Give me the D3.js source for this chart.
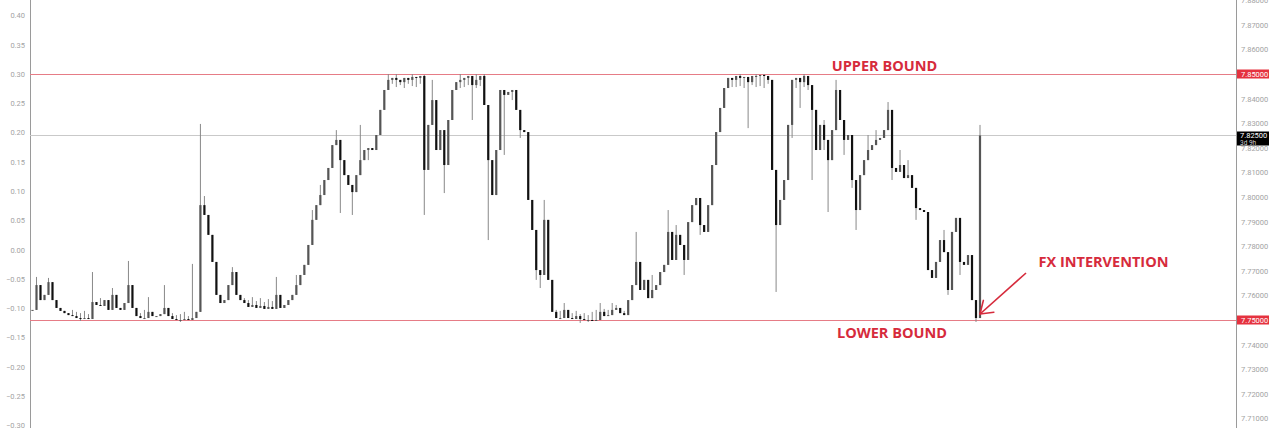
<!DOCTYPE html>
<html>
<head>
<meta charset="utf-8">
<script src="https://cdn.jsdelivr.net/npm/d3@7"></script>
<style>
  html, body { margin: 0; padding: 0; background: #ffffff; }
  svg { display: block; }
</style>
</head>
<body>
<div id="chart"></div>
<script>
// ---------- DATA (USD/HKD closes) ----------
const closes = [
  7.7541, 7.7642, 7.7581, 7.7602, 7.7654, 7.7581, 7.7549, 7.7537, 7.7528, 7.7520,
  7.7516, 7.7508, 7.7504, 7.7508, 7.7504, 7.7573, 7.7561, 7.7557, 7.7581, 7.7541,
  7.7602, 7.7549, 7.7541, 7.7569, 7.7642, 7.7549, 7.7516, 7.7508, 7.7508, 7.7533,
  7.7516, 7.7516, 7.7524, 7.7549, 7.7516, 7.7504, 7.7500, 7.7500, 7.7504, 7.7500,
  7.7508, 7.7533, 7.7967, 7.7927, 7.7846, 7.7736, 7.7602, 7.7569, 7.7581, 7.7642,
  7.7695, 7.7602, 7.7581, 7.7569, 7.7553, 7.7561, 7.7549, 7.7557, 7.7545, 7.7553,
  7.7545, 7.7602, 7.7549, 7.7561, 7.7581, 7.7602, 7.7642, 7.7683, 7.7724, 7.7805,
  7.7907, 7.7967, 7.8008, 7.8069, 7.8118, 7.8211, 7.8232, 7.8150, 7.8089, 7.8049,
  7.8020, 7.8089, 7.8150, 7.8191, 7.8199, 7.8191, 7.8252, 7.8354, 7.8435, 7.8476,
  7.8484, 7.8476, 7.8467, 7.8484, 7.8476, 7.8488, 7.8484, 7.8492, 7.8110,
  7.8293, 7.8394, 7.8191, 7.8272, 7.8130, 7.8313, 7.8435, 7.8467, 7.8476, 7.8484,
  7.8492, 7.8455, 7.8476, 7.8492, 7.8374, 7.8150, 7.8008, 7.8191, 7.8435, 7.8415,
  7.8427, 7.8435, 7.8354, 7.8272, 7.8264, 7.7988, 7.7866, 7.7703, 7.7683, 7.7907,
  7.7663, 7.7533, 7.7508, 7.7508, 7.7541, 7.7508, 7.7504, 7.7516, 7.7504, 7.7500,
  7.7500, 7.7496, 7.7500, 7.7533, 7.7516, 7.7520, 7.7541, 7.7549,
  7.7528, 7.7520, 7.7581, 7.7642, 7.7736, 7.7622, 7.7663, 7.7589, 7.7622, 7.7642,
  7.7695, 7.7724, 7.7858, 7.7744, 7.7846, 7.7805, 7.7744, 7.7898, 7.7967, 7.7996,
  7.7886, 7.7858, 7.7967, 7.8130, 7.8264, 7.8362, 7.8443, 7.8484, 7.8476, 7.8492,
  7.8484, 7.8488, 7.8467, 7.8492, 7.8492, 7.8496, 7.8492, 7.8476, 7.8110, 7.7886,
  7.7988, 7.8069, 7.8293, 7.8476, 7.8484, 7.8467, 7.8492, 7.8455, 7.8354,
  7.8191, 7.8293, 7.8232, 7.8150, 7.8272, 7.8435, 7.8313, 7.8232, 7.8252, 7.8069,
  7.7947, 7.8089, 7.8150, 7.8191, 7.8211, 7.8232, 7.8240, 7.8272, 7.8354, 7.8118,
  7.8102, 7.8130, 7.8077, 7.8089, 7.8037, 7.7955, 7.7947, 7.7939, 7.7703, 7.7671,
  7.7736, 7.7825, 7.7776, 7.7622, 7.7858, 7.7915, 7.7736, 7.7724, 7.7764, 7.7581,
  7.7508, 7.8250
];
// wick extremes beyond the body: [bar index, price]
const wickHighs = [
  [1, 7.7675], [4, 7.7671], [10, 7.7541], [11, 7.7533], [12, 7.7528], [13, 7.7537], [14, 7.7524],
  [15, 7.7695], [17, 7.7589], [20, 7.7630], [24, 7.7740], [26, 7.7537], [27, 7.7528], [28, 7.7541],
  [29, 7.7593], [33, 7.7642], [35, 7.7528], [36, 7.7520], [37, 7.7524], [38, 7.7533], [39, 7.7516],
  [40, 7.7728], [42, 7.8297], [43, 7.8004], [50, 7.7715], [53, 7.7589], [54, 7.7581], [55, 7.7593],
  [56, 7.7577], [57, 7.7589], [58, 7.7573], [59, 7.7585], [60, 7.7577], [61, 7.7675], [66, 7.7683],
  [70, 7.7947], [72, 7.8049], [76, 7.8272], [78, 7.8130], [82, 7.8293], [89, 7.8500], [91, 7.8500],
  [95, 7.8500], [98, 7.8496], [100, 7.8476], [107, 7.8500], [111, 7.8500], [113, 7.8500], [128, 7.7988],
  [130, 7.7528], [131, 7.7541], [132, 7.7537], [133, 7.7569], [134, 7.7533], [135, 7.7528], [136, 7.7537],
  [137, 7.7524], [138, 7.7528], [139, 7.7520], [140, 7.7533], [141, 7.7541], [142, 7.7569], [143, 7.7545],
  [144, 7.7541], [145, 7.7569], [146, 7.7561], [147, 7.7549], [148, 7.7537], [151, 7.7858], [155, 7.7683],
  [159, 7.7947], [161, 7.7886], [177, 7.8500], [181, 7.8500], [183, 7.8500], [193, 7.8500], [198, 7.8313],
  [201, 7.8476], [209, 7.8252], [211, 7.8272], [214, 7.8386], [217, 7.8191], [219, 7.8150], [228, 7.7866],
  [237, 7.8293]
];
const wickLows = [
  [12, 7.7496], [37, 7.7492], [74, 7.8069], [77, 7.7935], [80, 7.7927], [84, 7.8150], [86, 7.8191],
  [89, 7.8455], [90, 7.8460], [91, 7.8447], [92, 7.8455], [93, 7.8443], [94, 7.8460], [95, 7.8451],
  [96, 7.8447], [97, 7.8460], [98, 7.7927], [102, 7.8191], [103, 7.8016], [104, 7.8252], [106, 7.8451],
  [107, 7.8443], [108, 7.8447], [109, 7.8455], [110, 7.8313], [111, 7.8443], [112, 7.8451], [113, 7.8447],
  [114, 7.7825], [118, 7.8171], [120, 7.8394], [122, 7.8240], [126, 7.7663], [127, 7.7630], [137, 7.7488],
  [139, 7.7492], [157, 7.7642], [163, 7.7683], [167, 7.7846], [169, 7.7886], [174, 7.8455], [175, 7.8447],
  [176, 7.8447], [177, 7.8451], [178, 7.8443], [179, 7.8280], [180, 7.8455], [181, 7.8447], [182, 7.8451],
  [183, 7.8443], [184, 7.8460], [186, 7.7614], [190, 7.8240], [191, 7.8443], [192, 7.8362], [193, 7.8447],
  [194, 7.8435], [195, 7.8069], [198, 7.8191], [199, 7.7939], [200, 7.8191], [203, 7.8171], [205, 7.8037],
  [206, 7.7866], [215, 7.8069], [221, 7.7907], [226, 7.7683], [229, 7.7602], [230, 7.7776], [232, 7.7683],
  [236, 7.7492]
];

const leftTicks = [0.40, 0.35, 0.30, 0.25, 0.20, 0.15, 0.10, 0.05, 0.00, -0.05, -0.10, -0.15, -0.20, -0.25, -0.30];
const rightTicks = [7.88, 7.87, 7.86, 7.85, 7.84, 7.83, 7.82, 7.81, 7.80, 7.79, 7.78, 7.77, 7.76, 7.75, 7.74, 7.73, 7.72, 7.71];
const upperBound = 7.85, lowerBound = 7.75, lastPrice = 7.825;
const lastLabel = ["7.82500", "3d 9h"];
const annotations = ["UPPER BOUND", "LOWER BOUND", "FX INTERVENTION"];

// ---------- LAYOUT ----------
const W = 1272, H = 428;
const axL = 30, axR = 1236;
const RED = "#d62b3c", REDLINE = "#e67c86", GRID = "#c9c9c9", TXT = "#a3a3a3";

const svg = d3.select("#chart").append("svg").attr("width", W).attr("height", H);

const y = d3.scaleLinear().domain([lowerBound, upperBound]).range([320, 74]);
const yLeft = d3.scaleLinear().domain([-0.12, 0.30]).range([320, 74]);
const x = d3.scaleLinear().domain([0, closes.length - 1]).range([32.5, 980]);

// axis lines
svg.append("line").attr("x1", axL + 0.5).attr("x2", axL + 0.5).attr("y1", 0).attr("y2", H)
  .attr("stroke", "#9a9a9a").attr("stroke-width", 1);
svg.append("line").attr("x1", axR + 0.5).attr("x2", axR + 0.5).attr("y1", 0).attr("y2", H)
  .attr("stroke", "#9a9a9a").attr("stroke-width", 1);

// horizontal reference lines
svg.append("line").attr("x1", axL).attr("x2", axR).attr("y1", Math.round(y(lastPrice)) + 0.5).attr("y2", Math.round(y(lastPrice)) + 0.5)
  .attr("stroke", GRID).attr("stroke-width", 1);
[upperBound, lowerBound].forEach(v => {
  svg.append("line").attr("x1", axL).attr("x2", axR).attr("y1", Math.round(y(v)) + 0.5).attr("y2", Math.round(y(v)) + 0.5)
    .attr("stroke", REDLINE).attr("stroke-width", 1);
});

// left axis
const fmtL = d => (d < 0 ? "\u2212" : "") + Math.abs(d).toFixed(2);
const gL = svg.append("g").attr("transform", `translate(${axL},0)`)
  .call(d3.axisLeft(yLeft).tickValues(leftTicks).tickSize(0).tickPadding(5).tickFormat(fmtL));
gL.select(".domain").remove();
gL.selectAll("text").attr("fill", TXT).style("font-family", "Roboto, sans-serif").style("font-size", "7.5px");

// right axis
const gR = svg.append("g").attr("transform", `translate(${axR},0)`)
  .call(d3.axisRight(y).tickValues(rightTicks).tickSize(0).tickPadding(5).tickFormat(d => d.toFixed(5)));
gR.select(".domain").remove();
gR.selectAll("text").attr("fill", TXT).style("font-family", "Roboto, sans-serif").style("font-size", "7.5px");

// candles
const hiMap = new Map(wickHighs);
const loMap = new Map(wickLows);
const bars = closes.map((c, i) => {
  const o = i > 0 ? closes[i - 1] : c;
  const h = Math.max(o, c, hiMap.has(i) ? hiMap.get(i) : -Infinity);
  const l = Math.min(o, c, loMap.has(i) ? loMap.get(i) : Infinity);
  return { i, o, c, h, l };
});
const gC = svg.append("g");
gC.selectAll("line.wick").data(bars).join("line").attr("class", "wick")
  .attr("x1", d => x(d.i)).attr("x2", d => x(d.i))
  .attr("y1", d => y(d.h)).attr("y2", d => y(d.l))
  .attr("stroke", "#888888").attr("stroke-width", 1);
gC.selectAll("rect.body").data(bars).join("rect").attr("class", "body")
  .attr("x", d => x(d.i) - 1.1).attr("width", 2.2)
  .attr("y", d => y(Math.max(d.o, d.c)))
  .attr("height", d => Math.max(1, Math.abs(y(d.o) - y(d.c))))
  .attr("fill", d => d.c >= d.o ? "#555555" : "#111111");

// right-side price boxes
[upperBound, lowerBound].forEach(v => {
  const yy = y(v);
  svg.append("rect").attr("x", axR + 1).attr("y", yy - 4.5).attr("width", 32).attr("height", 9).attr("fill", "#e5323f");
  svg.append("text").attr("x", axR + 5).attr("y", yy + 2.7).text(v.toFixed(5))
    .attr("fill", "#fff").style("font-family", "Roboto, sans-serif").style("font-size", "7.5px");
});
{
  const yy = y(lastPrice);
  svg.append("rect").attr("x", axR + 1).attr("y", yy - 4).attr("width", 32).attr("height", 14).attr("fill", "#000");
  svg.append("text").attr("x", axR + 4).attr("y", yy + 2.8).text(lastLabel[0])
    .attr("fill", "#fff").style("font-family", "Roboto, sans-serif").style("font-size", "7.5px");
  svg.append("text").attr("x", axR + 4).attr("y", yy + 9.6).text(lastLabel[1])
    .attr("fill", "#ccc").style("font-family", "Roboto, sans-serif").style("font-size", "6.5px");
}

// annotations
const annoStyle = sel => sel.attr("fill", RED).attr("text-anchor", "middle")
  .style("font-family", "'Open Sans', sans-serif").style("font-weight", "700").style("font-size", "14.5px");
svg.append("text").attr("x", 884.5).attr("y", 70.5).text(annotations[0]).call(annoStyle);
svg.append("text").attr("x", 892).attr("y", 338).text(annotations[1]).call(annoStyle);
svg.append("text").attr("x", 1103.5).attr("y", 267).text(annotations[2]).call(annoStyle);

// arrow
const tail = [1026, 273], tip = [980, 314];
svg.append("line").attr("x1", tail[0]).attr("y1", tail[1]).attr("x2", tip[0]).attr("y2", tip[1])
  .attr("stroke", RED).attr("stroke-width", 1.6);
const ang = Math.atan2(tail[1] - tip[1], tail[0] - tip[0]);
[-0.6, 0.6].forEach(da => {
  svg.append("line").attr("x1", tip[0]).attr("y1", tip[1])
    .attr("x2", tip[0] + 14 * Math.cos(ang + da)).attr("y2", tip[1] + 14 * Math.sin(ang + da))
    .attr("stroke", RED).attr("stroke-width", 1.6).attr("stroke-linecap", "round");
});
</script>
</body>
</html>
